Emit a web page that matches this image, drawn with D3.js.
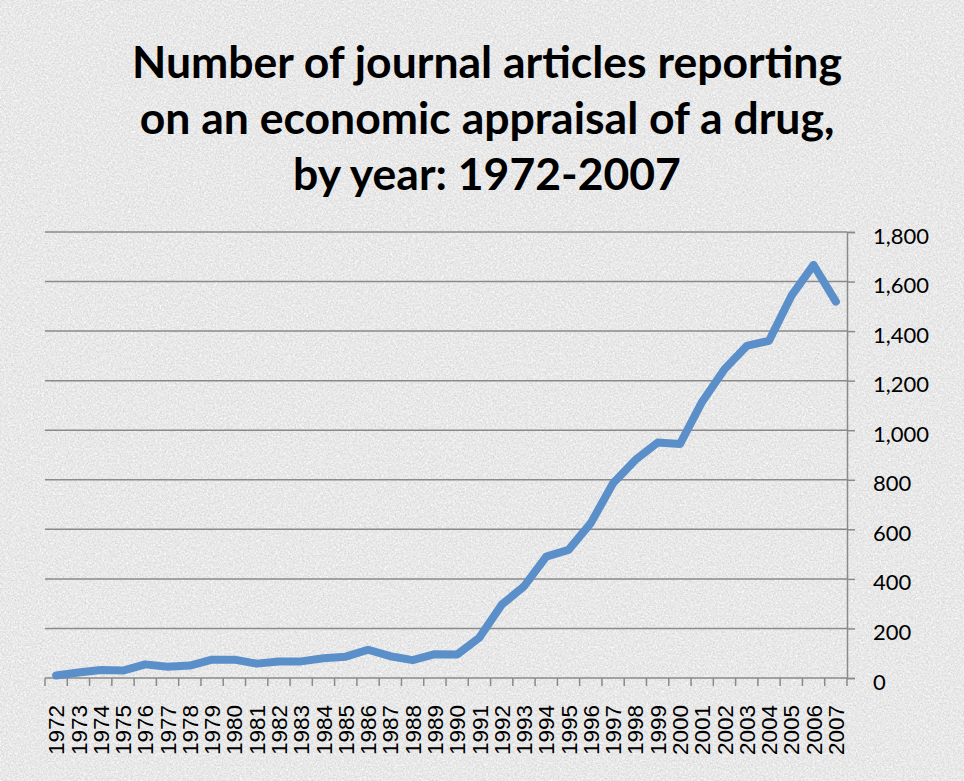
<!DOCTYPE html>
<html>
<head>
<meta charset="utf-8">
<script src="https://cdn.jsdelivr.net/npm/d3@7"></script>
<style>
  html, body { margin: 0; padding: 0; background: #ebebeb; }
  svg { display: block; }
</style>
</head>
<body>
<svg id="chart" width="964" height="781"></svg>
<script>
const titleLines = [
  "Number of journal articles reporting",
  "on an economic appraisal of a drug,",
  "by year: 1972-2007"
];
const years = ["1972","1973","1974","1975","1976","1977","1978","1979","1980","1981",
  "1982","1983","1984","1985","1986","1987","1988","1989","1990","1991",
  "1992","1993","1994","1995","1996","1997","1998","1999","2000","2001",
  "2002","2003","2004","2005","2006","2007"];
const articles = [10, 22, 32, 30, 55, 45, 50, 74, 74, 58,
  67, 67, 80, 86, 114, 88, 72, 96, 95, 163,
  296, 370, 490, 517, 625, 786, 880, 950, 944, 1115,
  1246, 1340, 1361, 1542, 1667, 1519];
const yTicks = [0, 200, 400, 600, 800, 1000, 1200, 1400, 1600, 1800];

const W = 964, H = 781;
const margin = { left: 45, right: 117, top: 232, bottom: 103 };
const plotW = W - margin.left - margin.right;
const plotH = H - margin.top - margin.bottom;

const svg = d3.select("#chart");

// textured paper background
const defs = svg.append("defs");
const f = defs.append("filter").attr("id", "paper").attr("x", 0).attr("y", 0)
  .attr("width", "100%").attr("height", "100%");
f.append("feTurbulence").attr("type", "fractalNoise").attr("baseFrequency", 0.6)
  .attr("numOctaves", 3).attr("seed", 7).attr("result", "t");
f.append("feColorMatrix").attr("in", "t").attr("type", "matrix")
  .attr("values", "0 0 0 0 0.6  0 0 0 0 0.6  0 0 0 0 0.6  2.6 0 0 0 -1.1");
const f2 = defs.append("filter").attr("id", "paper2").attr("x", 0).attr("y", 0)
  .attr("width", "100%").attr("height", "100%");
f2.append("feTurbulence").attr("type", "fractalNoise").attr("baseFrequency", 0.45)
  .attr("numOctaves", 2).attr("seed", 21).attr("result", "t");
f2.append("feColorMatrix").attr("in", "t").attr("type", "matrix")
  .attr("values", "0 0 0 0 1  0 0 0 0 1  0 0 0 0 1  2.4 0 0 0 -1.0");
svg.append("rect").attr("width", W).attr("height", H).attr("fill", "#e9e9e9");
svg.append("rect").attr("width", W).attr("height", H).attr("filter", "url(#paper2)").attr("opacity", 0.8);
svg.append("rect").attr("width", W).attr("height", H).attr("filter", "url(#paper)").attr("opacity", 0.6);

// title
const title = svg.append("g").attr("font-family", "Lato, 'Open Sans', sans-serif")
  .attr("font-weight", 700).attr("fill", "#000").attr("text-anchor", "middle");
const tl = title.selectAll("text").data(titleLines).join("text")
  .attr("x", 487).attr("y", (d, i) => 78 + i * 56).attr("font-size", 40).text(d => d);
const w0 = tl.node().getComputedTextLength();
const fs = 40 * 710 / w0;
tl.attr("font-size", fs);

const x = d3.scaleBand().domain(years).range([0, plotW]).paddingInner(0).paddingOuter(0);
const y = d3.scaleLinear().domain([0, 1800]).range([plotH, 0]);

const g = svg.append("g").attr("transform", `translate(${margin.left},${margin.top})`);

// gridlines
g.append("g").selectAll("line").data(yTicks.filter(d => d > 0)).join("line")
  .attr("x1", 0).attr("x2", plotW)
  .attr("y1", d => y(d)).attr("y2", d => y(d))
  .attr("stroke", "#8a8a8a").attr("stroke-width", 1.5);

// right y axis
const yAxis = d3.axisRight(y).tickValues(yTicks).tickSize(8).tickPadding(18)
  .tickFormat(d3.format(","));
const ya = g.append("g").attr("transform", `translate(${plotW},0)`).call(yAxis);
ya.select(".domain").attr("stroke", "#8a8a8a").attr("stroke-width", 1.5);
ya.selectAll(".tick line").attr("stroke", "#8a8a8a").attr("stroke-width", 1.5);
ya.selectAll(".tick text").attr("font-family", "Lato, 'Open Sans', sans-serif")
  .attr("font-size", 22).attr("fill", "#000").attr("dy", "0.5em");

// x axis (ticks at category boundaries)
const boundaries = years.map(d => x(d)).concat([plotW]);
const xa = g.append("g").attr("transform", `translate(0,${plotH})`);
xa.append("line").attr("x1", 0).attr("x2", plotW)
  .attr("stroke", "#8a8a8a").attr("stroke-width", 1.5);
xa.selectAll("line.tk").data(boundaries).join("line").attr("class", "tk")
  .attr("x1", d => d).attr("x2", d => d).attr("y1", 0).attr("y2", 8)
  .attr("stroke", "#8a8a8a").attr("stroke-width", 1.5);
const xAxis = d3.axisBottom(x).tickSize(0).tickPadding(0);
const xg = g.append("g").attr("transform", `translate(0,${plotH})`).call(xAxis);
xg.select(".domain").remove();
xg.selectAll(".tick text")
  .attr("font-family", "'Liberation Sans', Arial, sans-serif")
  .attr("font-size", 22.5).attr("fill", "#000")
  .attr("text-anchor", "end")
  .attr("transform", "rotate(-90)")
  .attr("x", -27).attr("y", 0).attr("dy", "0.36em");

// line
const line = d3.line().x((d, i) => x(years[i]) + x.bandwidth() / 2).y(d => y(d));
g.append("path").datum(articles).attr("d", line)
  .attr("fill", "none").attr("stroke", "#5b8fc9").attr("stroke-width", 8)
  .attr("stroke-linejoin", "round").attr("stroke-linecap", "round");
</script>
</body>
</html>
